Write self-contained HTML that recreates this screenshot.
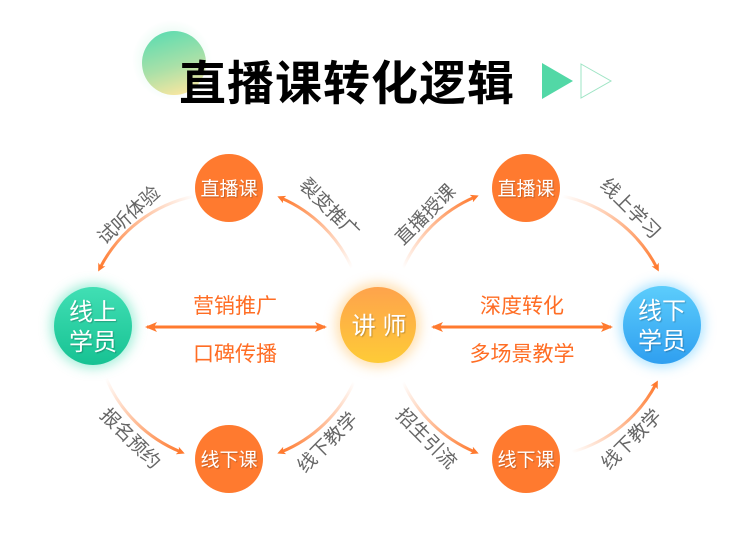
<!DOCTYPE html>
<html><head><meta charset="utf-8"><style>
html,body{margin:0;padding:0;background:#fff;width:745px;height:535px;overflow:hidden}
svg{display:block}
text{font-family:"Liberation Sans","Noto Sans CJK SC",sans-serif}
</style></head><body>
<svg width="745" height="535" viewBox="0 0 745 535" xmlns="http://www.w3.org/2000/svg">
<defs>
<radialGradient id="blob" cx="0.5" cy="0.5" r="0.5">
<stop offset="0" stop-color="#6ee0b0"/><stop offset="1" stop-color="#6ee0b0" stop-opacity="0"/>
</radialGradient>
<linearGradient id="tc" x1="0.3" y1="0" x2="0.6" y2="1">
<stop offset="0" stop-color="#5fdcb0"/><stop offset="0.55" stop-color="#a8e0a8"/><stop offset="1" stop-color="#f7e6a0"/>
</linearGradient>
<linearGradient id="tg" x1="0" y1="0" x2="0" y2="1"><stop offset="0" stop-color="#fea34c"/><stop offset="1" stop-color="#fecb37"/></linearGradient>
<linearGradient id="gg" x1="0" y1="0" x2="0" y2="1"><stop offset="0" stop-color="#41dfb4"/><stop offset="1" stop-color="#17c293"/></linearGradient>
<linearGradient id="bg" x1="0" y1="0" x2="0" y2="1"><stop offset="0" stop-color="#5ccdfc"/><stop offset="1" stop-color="#2f9ff0"/></linearGradient>
<filter id="glow" x="-50%" y="-50%" width="200%" height="200%"><feGaussianBlur stdDeviation="6"/></filter>
<filter id="ts"><feDropShadow dx="1" dy="1" stdDeviation="0.6" flood-color="#000" flood-opacity="0.25"/></filter>
<marker id="ah" markerWidth="8" markerHeight="8" refX="4" refY="4" orient="auto" markerUnits="userSpaceOnUse" viewBox="0 0 8 8">
<path d="M0,0 L8,4 L0,8 L2,4 Z" fill="#ff7a2f"/></marker>
<marker id="ah2" markerWidth="12" markerHeight="12" refX="10" refY="6" orient="auto-start-reverse" markerUnits="userSpaceOnUse" viewBox="0 0 12 12">
<path d="M0,1 L12,6 L0,11 L3,6 Z" fill="#ff7a2f"/></marker>
<linearGradient id="a1" gradientUnits="userSpaceOnUse" x1="195" y1="196" x2="100" y2="270"><stop offset="0" stop-color="#ff7a2f" stop-opacity="0"/><stop offset="1" stop-color="#ff7a2f"/></linearGradient>
<linearGradient id="a2" gradientUnits="userSpaceOnUse" x1="352" y1="268" x2="280" y2="198"><stop offset="0" stop-color="#ff7a2f" stop-opacity="0"/><stop offset="1" stop-color="#ff7a2f"/></linearGradient>
<linearGradient id="a3" gradientUnits="userSpaceOnUse" x1="106" y1="378" x2="182" y2="452"><stop offset="0" stop-color="#ff7a2f" stop-opacity="0"/><stop offset="1" stop-color="#ff7a2f"/></linearGradient>
<linearGradient id="a4" gradientUnits="userSpaceOnUse" x1="354" y1="382" x2="280" y2="452"><stop offset="0" stop-color="#ff7a2f" stop-opacity="0"/><stop offset="1" stop-color="#ff7a2f"/></linearGradient>
<linearGradient id="a5" gradientUnits="userSpaceOnUse" x1="403" y1="268" x2="476" y2="197"><stop offset="0" stop-color="#ff7a2f" stop-opacity="0"/><stop offset="1" stop-color="#ff7a2f"/></linearGradient>
<linearGradient id="a6" gradientUnits="userSpaceOnUse" x1="562" y1="196" x2="658" y2="270"><stop offset="0" stop-color="#ff7a2f" stop-opacity="0"/><stop offset="1" stop-color="#ff7a2f"/></linearGradient>
<linearGradient id="a7" gradientUnits="userSpaceOnUse" x1="403" y1="382" x2="476" y2="452"><stop offset="0" stop-color="#ff7a2f" stop-opacity="0"/><stop offset="1" stop-color="#ff7a2f"/></linearGradient>
<linearGradient id="a8" gradientUnits="userSpaceOnUse" x1="572" y1="452" x2="656" y2="383"><stop offset="0" stop-color="#ff7a2f" stop-opacity="0"/><stop offset="1" stop-color="#ff7a2f"/></linearGradient>
</defs>

<!-- title -->
<circle cx="172" cy="60" r="40" fill="url(#blob)" opacity="0.35"/>
<circle cx="174" cy="63" r="32" fill="url(#tc)"/>
<text x="347" y="100" text-anchor="middle" font-size="47" font-weight="bold" fill="#000" letter-spacing="1">直播课转化逻辑</text>
<path d="M542,63 L573,81 L542,99 Z" fill="#52d8a6"/>
<path d="M581,64 L611,81 L581,98 Z" fill="none" stroke="#9ee4c4" stroke-width="1"/>

<!-- arcs -->
<g fill="none" stroke-width="3" stroke-linecap="round">
<path d="M195,196 A137 137 0 0 0 100,268" stroke="url(#a1)" marker-end="url(#ah)"/>
<path d="M352,268 A137 137 0 0 0 281,198" stroke="url(#a2)" marker-end="url(#ah)"/>
<path d="M106,378 A137 137 0 0 0 181,452" stroke="url(#a3)" marker-end="url(#ah)"/>
<path d="M354,382 A137 137 0 0 1 281,452" stroke="url(#a4)" marker-end="url(#ah)"/>
<path d="M403,268 A137 137 0 0 1 475,197" stroke="url(#a5)" marker-end="url(#ah)"/>
<path d="M562,196 A137 137 0 0 1 657,268" stroke="url(#a6)" marker-end="url(#ah)"/>
<path d="M403,382 A137 137 0 0 0 475,452" stroke="url(#a7)" marker-end="url(#ah)"/>
<path d="M572,452 A137 137 0 0 0 656,384" stroke="url(#a8)" marker-end="url(#ah)"/>
</g>

<!-- arc labels -->
<g font-size="19" fill="#666" text-anchor="middle">
<text transform="translate(133,220) rotate(-42)">试听体验</text>
<text transform="translate(325,213) rotate(45)">裂变推广</text>
<text transform="translate(126,443) rotate(45)">报名预约</text>
<text transform="translate(332,447) rotate(-45)">线下教学</text>
<text transform="translate(430,219) rotate(-45)">直播授课</text>
<text transform="translate(626,213) rotate(45)">线上学习</text>
<text transform="translate(422,443) rotate(45)">招生引流</text>
<text transform="translate(636,444) rotate(-45)">线下教学</text>
</g>

<!-- horizontal arrows -->
<line x1="147" y1="327" x2="325" y2="327" stroke="#ff7a2f" stroke-width="3" marker-start="url(#ah2)" marker-end="url(#ah2)"/>
<line x1="433" y1="327" x2="611" y2="327" stroke="#ff7a2f" stroke-width="3" marker-start="url(#ah2)" marker-end="url(#ah2)"/>
<g font-size="21" fill="#ff6d24" text-anchor="middle">
<text x="235" y="313">营销推广</text>
<text x="235" y="361">口碑传播</text>
<text x="522" y="313">深度转化</text>
<text x="522" y="361">多场景教学</text>
</g>

<!-- nodes -->
<g fill="#ff7a2f">
<circle cx="229" cy="188" r="34"/><circle cx="229" cy="459" r="34"/>
<circle cx="526" cy="188" r="34"/><circle cx="526" cy="459" r="34"/>
</g>
<circle cx="378" cy="325" r="42" fill="#ffc060" opacity="0.5" filter="url(#glow)"/>
<circle cx="378" cy="325" r="38" fill="url(#tg)"/>
<circle cx="93" cy="326" r="42" fill="#40dcb0" opacity="0.5" filter="url(#glow)"/>
<circle cx="93" cy="326" r="39" fill="url(#gg)"/>
<circle cx="662" cy="325" r="42" fill="#5cc8ff" opacity="0.5" filter="url(#glow)"/>
<circle cx="662" cy="325" r="39" fill="url(#bg)"/>

<g fill="#fff" text-anchor="middle" filter="url(#ts)">
<text x="229" y="195" font-size="19">直播课</text>
<text x="229" y="466" font-size="19">线下课</text>
<text x="526" y="195" font-size="19">直播课</text>
<text x="526" y="466" font-size="19">线下课</text>
<text x="379" y="334" font-size="24">讲 师</text>
<text x="93" y="320" font-size="24">线上</text>
<text x="93" y="350" font-size="24">学员</text>
<text x="662" y="319" font-size="24">线下</text>
<text x="662" y="349" font-size="24">学员</text>
</g>
</svg>
</body></html>
